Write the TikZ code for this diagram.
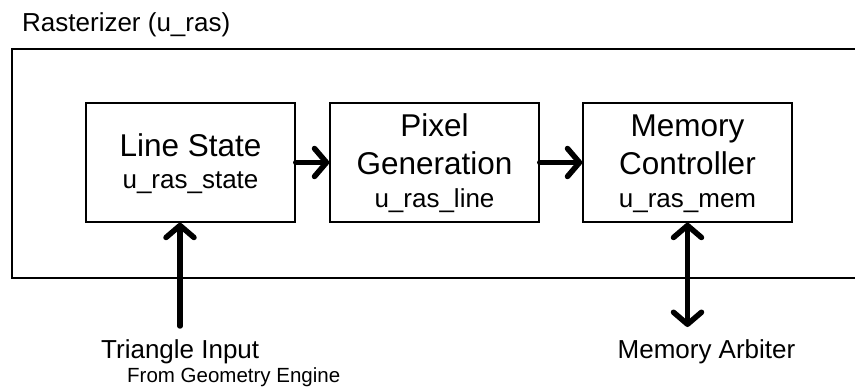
\documentclass[tikz,border=0pt]{standalone}
\usepackage{fontspec}
\setmainfont{Liberation Sans}
\usetikzlibrary{arrows.meta}
\begin{document}
\begin{tikzpicture}[x=1pt,y=-1pt,
  blk/.style={draw,line width=1.5pt,minimum width=209pt,minimum height=119pt,inner sep=0pt},
  big/.style={font=\fontsize{31.5}{38}\selectfont,inner sep=0pt,anchor=base},
  small/.style={font=\fontsize{26}{30}\selectfont,inner sep=0pt,anchor=base},
  tiny/.style={font=\fontsize{20.5}{24}\selectfont,inner sep=0pt,anchor=base west},
  conn/.style={line width=5.5pt,line cap=round,-{Straight Barb[length=12pt,width=28pt,line cap=round,line join=round]}},
  conn2/.style={line width=5.5pt,line cap=round,{Straight Barb[length=12pt,width=28pt,line cap=round,line join=round]}-{Straight Barb[length=12pt,width=28pt,line cap=round,line join=round]}}]
\useasboundingbox (0,0) rectangle (855,390);
\clip (0,0) rectangle (855,390);
\node[small,anchor=base west] (title) at (22,32) {Rasterizer (u\_ras)};
\draw[line width=1.5pt] (870,49) -| (12,278) -- (870,278);
\node[blk] (ls) at (190.5,162.5) {};
\node[blk] (pg) at (434.5,162.5) {};
\node[blk] (mc) at (687.5,162.5) {};
\node[big] (t1) at (190.5,157) {Line State};
\node[small] (t2) at (190.5,189) {u\_ras\_state};
\node[big] (t3) at (434.5,137) {Pixel};
\node[big] (t4) at (434.5,175) {Generation};
\node[small] (t5) at (434.5,208) {u\_ras\_line};
\node[big] (t6) at (687.5,137) {Memory};
\node[big] (t7) at (687.5,175) {Controller};
\node[small] (t8) at (687.5,208) {u\_ras\_mem};
\node[small,anchor=base west] (ti) at (101,359) {Triangle Input};
\node[tiny] (fg) at (127,382) {From Geometry Engine};
\node[small] (ma) at (706.5,359) {Memory Arbiter};
\coordinate (tin) at (180,326);
\coordinate (mab) at (687.5,327);
\draw[conn] (ls.east) -- (pg.west);
\draw[conn] (pg.east) -- (mc.west);
\draw[conn] (tin) -- (tin |- ls.south);
\draw[conn2] (mab) -- (mc.south);
\end{tikzpicture}
\end{document}
